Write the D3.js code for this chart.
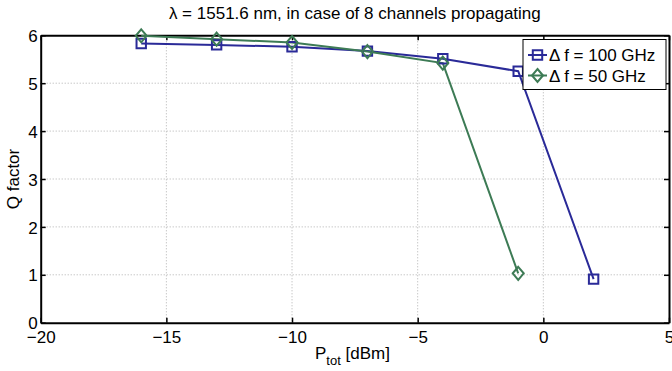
<!DOCTYPE html>
<html>
<head>
<script src="https://cdn.jsdelivr.net/npm/d3@7"></script>
<style>
  body { margin: 0; background: #fff; }
  svg { display: block; font-family: "Liberation Sans", Arial, sans-serif; }
</style>
</head>
<body>
<div id="container"></div>
<script>
  const width = 672, height = 371;

  // data
  const ptot = [-16, -13, -10, -7, -4, -1, 2];
  const q100 = [5.83, 5.80, 5.76, 5.67, 5.51, 5.25, 0.91];
  const ptot50 = [-16, -13, -10, -7, -4, -1];
  const q50 = [5.99, 5.92, 5.85, 5.66, 5.42, 1.03];

  const xTicks = [-20, -15, -10, -5, 0, 5];
  const yTicks = [0, 1, 2, 3, 4, 5, 6];
  const legendLabels = ["\u0394 f = 100 GHz", "\u0394 f = 50  GHz"];

  const blue = "#2a2a98", green = "#3d7b55";
  const fs = 17;

  const m = {left: 40.7, right: 669, top: 35.3, bottom: 322.7};

  const x = d3.scaleLinear().domain([-20, 5]).range([m.left, m.right]);
  const y = d3.scaleLinear().domain([0, 6]).range([m.bottom, m.top]);

  const svg = d3.select("#container").append("svg").attr("width", width).attr("height", height);

  // grid
  const grid = svg.append("g").attr("stroke", "#b0b0b0").attr("stroke-width", 1).attr("stroke-dasharray", "1,2");
  grid.selectAll(".gx").data(xTicks.slice(1, -1)).enter().append("line")
    .attr("x1", d => x(d)).attr("x2", d => x(d)).attr("y1", m.top).attr("y2", m.bottom);
  grid.selectAll(".gy").data(yTicks.slice(1, -1)).enter().append("line")
    .attr("y1", d => y(d)).attr("y2", d => y(d)).attr("x1", m.left).attr("x2", m.right);

  // axes (ticks inward, box)
  const fmt = d => d < 0 ? "\u2212" + Math.abs(d) : d;
  const gx = svg.append("g").attr("transform", `translate(0,${m.bottom})`)
    .call(d3.axisBottom(x).tickValues(xTicks).tickSizeInner(-5).tickSizeOuter(0).tickPadding(8).tickFormat(fmt));
  const gy = svg.append("g").attr("transform", `translate(${m.left},0)`)
    .call(d3.axisLeft(y).tickValues(yTicks).tickSizeInner(-5).tickSizeOuter(0).tickPadding(3).tickFormat(fmt));
  const gxt = svg.append("g").attr("transform", `translate(0,${m.top})`)
    .call(d3.axisTop(x).tickValues(xTicks).tickSizeInner(-5).tickSizeOuter(0).tickFormat(""));
  const gyr = svg.append("g").attr("transform", `translate(${m.right},0)`)
    .call(d3.axisRight(y).tickValues(yTicks).tickSizeInner(-5).tickSizeOuter(0).tickFormat(""));

  [gx, gy, gxt, gyr].forEach(g => {
    g.select(".domain").attr("stroke", "#000").attr("stroke-width", 2);
    g.selectAll(".tick line").attr("stroke", "#000").attr("stroke-width", 1.5);
    g.selectAll(".tick text").attr("fill", "#000").attr("font-size", fs).attr("font-family", "Liberation Sans, Arial, sans-serif");
  });
  gy.selectAll(".tick text").attr("dy", "0.36em");

  // series
  const line = d3.line().x(d => x(d[0])).y(d => y(d[1]));
  const s100 = ptot.map((p, i) => [p, q100[i]]);
  const s50 = ptot50.map((p, i) => [p, q50[i]]);

  svg.append("path").datum(s100).attr("d", line).attr("fill", "none").attr("stroke", blue).attr("stroke-width", 2);
  svg.append("path").datum(s50).attr("d", line).attr("fill", "none").attr("stroke", green).attr("stroke-width", 2);

  const sq = "M-4.7,-4.7H4.7V4.7H-4.7Z";
  const dm = "M0,-6.5L5.5,0L0,6.5L-5.5,0Z";

  svg.append("g").selectAll("path").data(s100).enter().append("path")
    .attr("d", sq).attr("transform", d => `translate(${x(d[0])},${y(d[1])})`)
    .attr("fill", "none").attr("stroke", blue).attr("stroke-width", 2);
  svg.append("g").selectAll("path").data(s50).enter().append("path")
    .attr("d", dm).attr("transform", d => `translate(${x(d[0])},${y(d[1])})`)
    .attr("fill", "none").attr("stroke", green).attr("stroke-width", 2);

  // legend
  const lg = svg.append("g").attr("transform", "translate(523,39.5)");
  lg.append("rect").attr("width", 143).attr("height", 50).attr("fill", "#fff").attr("stroke", "#000").attr("stroke-width", 1);
  const items = [{c: blue, s: sq}, {c: green, s: dm}];
  items.forEach((it, i) => {
    const ly = 15.5 + i * 20.5;
    lg.append("line").attr("x1", 5).attr("x2", 24).attr("y1", ly).attr("y2", ly).attr("stroke", it.c).attr("stroke-width", 2);
    lg.append("path").attr("d", it.s).attr("transform", `translate(14.5,${ly})`).attr("fill", "none").attr("stroke", it.c).attr("stroke-width", 2);
    lg.append("text").attr("x", 26).attr("y", ly).attr("dy", "0.36em").attr("font-size", fs).text(legendLabels[i]);
  });

  // title and labels
  svg.append("text").attr("x", (m.left + m.right) / 2).attr("y", 19).attr("text-anchor", "middle").attr("font-size", fs)
    .text("\u03bb = 1551.6 nm, in case of 8 channels propagating");

  svg.append("text").attr("transform", `translate(19,${(m.top + m.bottom) / 2}) rotate(-90)`).attr("text-anchor", "middle")
    .attr("font-size", fs).text("Q factor");

  const xl = svg.append("text").attr("x", 315).attr("y", 359).attr("font-size", fs);
  xl.append("tspan").text("P");
  xl.append("tspan").attr("font-size", 13).attr("dy", 6).text("tot");
  xl.append("tspan").attr("dy", -6).text(" [dBm]");
</script>
</body>
</html>
